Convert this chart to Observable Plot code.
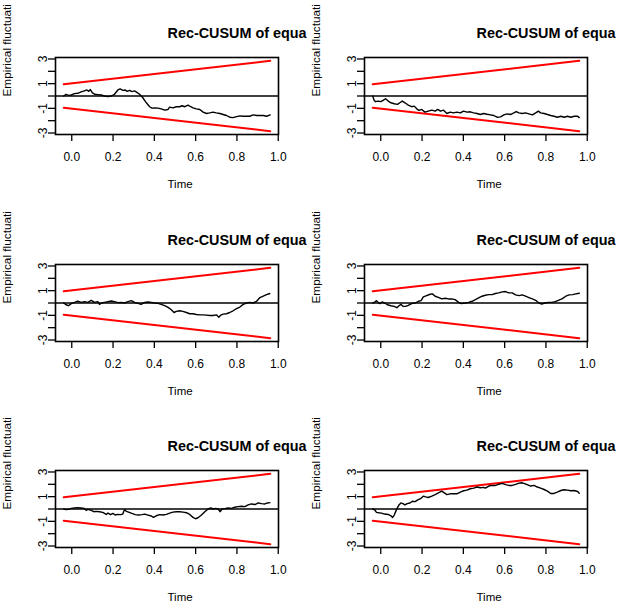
<!DOCTYPE html>
<html><head><meta charset="utf-8">
<script src="https://cdn.jsdelivr.net/npm/d3@7"></script>
<script src="https://cdn.jsdelivr.net/npm/@observablehq/plot@0.6"></script>
<style>
html,body{margin:0;padding:0;background:#fff;}
#chart{position:relative;width:624px;height:612px;overflow:hidden;background:#fff;}
.panel{position:absolute;}
</style></head><body><div id="chart"></div>
<script>
// ---- text ----
const panelTitle = "Rec-CUSUM of equa";
const yLabel = "Empirical fluctuati";
const xLabel = "Time";

// ---- ticks ----
const xTicks = [0, 0.2, 0.4, 0.6, 0.8, 1.0];
const yTicks = [-3, -2, -1, 0, 1, 2, 3];

// ---- boundaries (time, upper, lower) ----
const boundaryT = [0, 1];
const upperBound = [0.95, 2.85];
const lowerBound = [-0.95, -2.85];

// ---- empirical fluctuation processes: [time, value] ----
const proc1 = [[0,0],[0.011,0.14],[0.023,0.05],[0.036,0.08],[0.052,0.19],[0.068,0.22],[0.084,0.33],[0.100,0.41],[0.112,0.49],[0.121,0.38],
[0.129,0.52],[0.138,0.27],[0.149,0.14],[0.165,0.11],[0.181,0.08],[0.197,0],[0.214,-0.05],[0.230,0],[0.246,0.14],[0.262,0.49],
[0.273,0.57],[0.286,0.46],[0.298,0.49],[0.307,0.38],[0.319,0.46],[0.330,0.36],[0.343,0.41],[0.356,0.27],[0.367,0.14],[0.383,-0.14],
[0.400,-0.55],[0.416,-0.87],[0.427,-0.98],[0.440,-0.96],[0.456,-0.98],[0.472,-1.04],[0.489,-1.15],[0.505,-1.09],[0.513,-0.90],[0.529,-0.96],
[0.545,-0.87],[0.561,-0.87],[0.573,-0.79],[0.586,-0.87],[0.602,-0.74],[0.615,-0.87],[0.626,-0.96],[0.642,-1.04],[0.659,-1.09],[0.675,-1.31],
[0.691,-1.42],[0.707,-1.37],[0.723,-1.31],[0.739,-1.37],[0.756,-1.42],[0.772,-1.50],[0.788,-1.58],[0.804,-1.72],[0.820,-1.75],[0.837,-1.67],
[0.853,-1.61],[0.869,-1.64],[0.885,-1.64],[0.901,-1.64],[0.917,-1.53],[0.934,-1.58],[0.950,-1.58],[0.966,-1.58],[0.982,-1.64],[1.000,-1.53]];

const proc2 = [[0,0],[0.006,-0.33],[0.013,-0.46],[0.026,-0.41],[0.039,-0.46],[0.050,-0.36],[0.062,-0.22],[0.075,-0.41],[0.088,-0.55],[0.104,-0.63],
[0.120,-0.68],[0.131,-0.55],[0.143,-0.41],[0.156,-0.55],[0.172,-0.74],[0.188,-0.87],[0.201,-0.82],[0.213,-1.04],[0.224,-1.17],[0.237,-1.09],
[0.253,-1.31],[0.269,-1.23],[0.286,-1.15],[0.302,-1.23],[0.315,-1.09],[0.328,-1.23],[0.343,-1.15],[0.359,-1.42],[0.375,-1.31],[0.391,-1.37],
[0.407,-1.31],[0.424,-1.37],[0.440,-1.23],[0.456,-1.31],[0.472,-1.28],[0.489,-1.37],[0.505,-1.42],[0.521,-1.50],[0.537,-1.42],[0.554,-1.48],
[0.570,-1.53],[0.586,-1.58],[0.602,-1.72],[0.619,-1.69],[0.635,-1.53],[0.651,-1.45],[0.667,-1.50],[0.683,-1.37],[0.695,-1.26],[0.708,-1.37],
[0.724,-1.42],[0.740,-1.37],[0.756,-1.45],[0.773,-1.53],[0.789,-1.37],[0.802,-1.23],[0.813,-1.37],[0.830,-1.42],[0.846,-1.50],[0.862,-1.58],
[0.878,-1.64],[0.894,-1.72],[0.911,-1.64],[0.927,-1.72],[0.943,-1.64],[0.959,-1.72],[0.976,-1.64],[0.992,-1.64],[1.000,-1.75]];

const proc3 = [[0,0],[0.011,-0.14],[0.023,-0.22],[0.036,-0.05],[0.052,0.05],[0.068,0.16],[0.084,0.05],[0.100,0.11],[0.117,0.05],[0.133,0.22],
[0.149,0.05],[0.165,0.11],[0.173,-0.11],[0.184,0],[0.197,0.05],[0.214,0.11],[0.230,0.16],[0.246,0.11],[0.262,0.03],[0.278,0.05],
[0.294,0],[0.311,0.11],[0.327,0.19],[0.343,0.05],[0.359,-0.03],[0.375,-0.11],[0.392,0.05],[0.408,0.08],[0.424,0.05],[0.440,0],
[0.456,-0.03],[0.472,-0.11],[0.489,-0.22],[0.505,-0.36],[0.521,-0.55],[0.534,-0.77],[0.545,-0.68],[0.561,-0.63],[0.577,-0.68],[0.594,-0.77],
[0.610,-0.87],[0.626,-0.87],[0.642,-0.93],[0.659,-0.96],[0.675,-0.96],[0.691,-0.98],[0.707,-1.01],[0.723,-1.01],[0.739,-0.96],[0.751,-1.15],
[0.761,-0.98],[0.772,-0.90],[0.788,-0.87],[0.804,-0.77],[0.820,-0.63],[0.837,-0.46],[0.853,-0.33],[0.869,-0.11],[0.885,0],[0.901,0.05],
[0.917,0],[0.934,0.14],[0.950,0.44],[0.966,0.55],[0.982,0.68],[0.998,0.77]];

const proc4 = [[0,0],[0.010,0.08],[0.018,0.19],[0.026,0.05],[0.034,-0.05],[0.045,0.08],[0.058,0],[0.071,-0.14],[0.088,-0.22],[0.104,-0.27],
[0.117,-0.38],[0.127,-0.22],[0.136,-0.11],[0.146,-0.27],[0.159,-0.27],[0.172,-0.19],[0.188,-0.05],[0.205,0],[0.221,0.14],[0.234,0.19],
[0.245,0.49],[0.261,0.60],[0.278,0.71],[0.289,0.74],[0.302,0.55],[0.318,0.46],[0.334,0.33],[0.351,0.38],[0.367,0.33],[0.383,0.33],
[0.399,0.27],[0.416,0.05],[0.429,-0.05],[0.448,0],[0.464,0.05],[0.481,0.14],[0.497,0.27],[0.513,0.41],[0.529,0.55],[0.545,0.63],
[0.562,0.68],[0.578,0.68],[0.594,0.77],[0.610,0.82],[0.627,0.90],[0.643,0.93],[0.659,0.82],[0.675,0.82],[0.692,0.66],[0.708,0.60],
[0.724,0.66],[0.740,0.55],[0.756,0.44],[0.773,0.33],[0.789,0.22],[0.805,0],[0.818,-0.08],[0.834,0],[0.851,0.05],[0.867,0.05],
[0.883,0.11],[0.899,0.22],[0.916,0.33],[0.935,0.55],[0.951,0.66],[0.968,0.68],[0.984,0.74],[1.000,0.79]];

const proc5 = [[0,0],[0.011,-0.05],[0.023,-0.03],[0.036,0.05],[0.052,0.08],[0.068,0.11],[0.084,0.08],[0.100,0.05],[0.108,-0.11],[0.117,-0.03],
[0.133,-0.11],[0.146,-0.22],[0.157,-0.19],[0.173,-0.22],[0.189,-0.27],[0.206,-0.44],[0.214,-0.33],[0.227,-0.46],[0.238,-0.36],[0.249,-0.49],
[0.262,-0.44],[0.275,-0.46],[0.286,-0.41],[0.294,-0.05],[0.303,-0.19],[0.314,-0.25],[0.330,-0.36],[0.346,-0.46],[0.362,-0.49],[0.379,-0.46],
[0.392,-0.41],[0.408,-0.49],[0.424,-0.57],[0.434,-0.68],[0.448,-0.55],[0.464,-0.46],[0.481,-0.49],[0.497,-0.44],[0.513,-0.33],[0.529,-0.25],
[0.545,-0.22],[0.561,-0.22],[0.578,-0.25],[0.594,-0.30],[0.610,-0.44],[0.626,-0.68],[0.638,-0.79],[0.650,-0.71],[0.667,-0.49],[0.683,-0.22],
[0.699,0],[0.712,0.08],[0.723,0],[0.735,0.05],[0.748,0],[0.757,-0.22],[0.767,0],[0.780,0.03],[0.796,0.08],[0.812,0.05],
[0.828,0.14],[0.845,0.19],[0.861,0.22],[0.877,0.19],[0.893,0.33],[0.909,0.41],[0.926,0.36],[0.942,0.49],[0.958,0.44],[0.974,0.41],
[0.987,0.49],[0.998,0.52]];

const proc6 = [[0,0],[0.010,-0.08],[0.018,-0.27],[0.029,-0.30],[0.042,-0.33],[0.058,-0.41],[0.075,-0.44],[0.088,-0.55],[0.096,-0.68],[0.104,-0.49],
[0.115,-0.05],[0.127,0.33],[0.136,0.49],[0.146,0.44],[0.156,0.33],[0.167,0.44],[0.180,0.49],[0.192,0.63],[0.205,0.60],[0.218,0.74],
[0.234,0.87],[0.245,1.04],[0.256,0.98],[0.269,0.93],[0.286,1.04],[0.302,1.17],[0.318,1.31],[0.334,1.45],[0.347,1.31],[0.359,1.17],
[0.375,1.23],[0.391,1.23],[0.407,1.23],[0.424,1.37],[0.440,1.48],[0.456,1.53],[0.472,1.64],[0.489,1.69],[0.505,1.78],[0.521,1.72],
[0.537,1.75],[0.545,1.69],[0.562,1.86],[0.578,1.91],[0.594,1.91],[0.610,1.99],[0.627,2.08],[0.643,1.97],[0.659,1.91],[0.675,1.91],
[0.692,1.99],[0.708,2.10],[0.721,2.13],[0.732,2.08],[0.748,1.97],[0.765,1.86],[0.781,1.91],[0.797,1.78],[0.813,1.69],[0.830,1.58],
[0.846,1.45],[0.862,1.26],[0.878,1.26],[0.894,1.37],[0.911,1.50],[0.927,1.56],[0.943,1.53],[0.959,1.48],[0.976,1.50],[0.992,1.42],
[1.000,1.28]];

const processes = [proc1, proc2, proc3, proc4, proc5, proc6];

// ---- layout ----
const colLeft = [0, 309];
const rowTop = [0, 207, 413];
const FONT = "'Liberation Sans', Arial, Helvetica, sans-serif";

const upper = boundaryT.map((t, i) => ({t, v: upperBound[i]}));
const lower = boundaryT.map((t, i) => ({t, v: lowerBound[i]}));

const chart = document.getElementById("chart");

processes.forEach((proc, i) => {
  const row = Math.floor(i / 2), col = i % 2;
  const div = document.createElement("div");
  div.className = "panel";
  div.style.left = colLeft[col] + "px";
  div.style.top = rowTop[row] + "px";
  const svg = Plot.plot({
    width: 312,
    height: 199,
    marginLeft: 55,
    marginRight: 34,
    marginTop: 57,
    marginBottom: 65,
    style: {fontFamily: FONT, background: "transparent", color: "black"},
    x: {domain: [-0.04, 1.04], axis: null},
    y: {domain: [-3.12, 3.12], axis: null},
    marks: [
      Plot.axisX({ticks: xTicks, tickFormat: d3.format(".1f"), tickSize: 7, tickPadding: 11, fontSize: 12, dx: 8, label: null, strokeWidth: 1.3}),
      Plot.axisY({ticks: yTicks, tickFormat: d => (Math.abs(d) % 2 === 1 ? String(d) : ""), tickSize: 7, tickPadding: 2, tickRotate: -90, fontSize: 12, label: null, strokeWidth: 1.3}),
      Plot.ruleY([0], {stroke: "black", strokeWidth: 1.6}),
      Plot.line(upper, {x: "t", y: "v", stroke: "red", strokeWidth: 2}),
      Plot.line(lower, {x: "t", y: "v", stroke: "red", strokeWidth: 2}),
      Plot.line(proc, {x: d => d[0], y: d => d[1], stroke: "black", strokeWidth: 1.4}),
      Plot.frame({stroke: "black", strokeWidth: 1.6}),
      Plot.text([panelTitle], {text: d => d, frameAnchor: "top-left", dx: 112, dy: -24.5, textAnchor: "start", lineAnchor: "middle", fontSize: 14.4, fontWeight: "bold"}),
      Plot.text([xLabel], {text: d => d, frameAnchor: "bottom-left", dx: 112, dy: 50, textAnchor: "start", lineAnchor: "middle", fontSize: 11.5}),
      Plot.text([yLabel], {text: d => d, frameAnchor: "top-left", dx: -48, dy: 39, textAnchor: "start", lineAnchor: "middle", rotate: -90, fontSize: 11.8})
    ]
  });
  div.appendChild(svg);
  chart.appendChild(div);
});
</script>
</body></html>
